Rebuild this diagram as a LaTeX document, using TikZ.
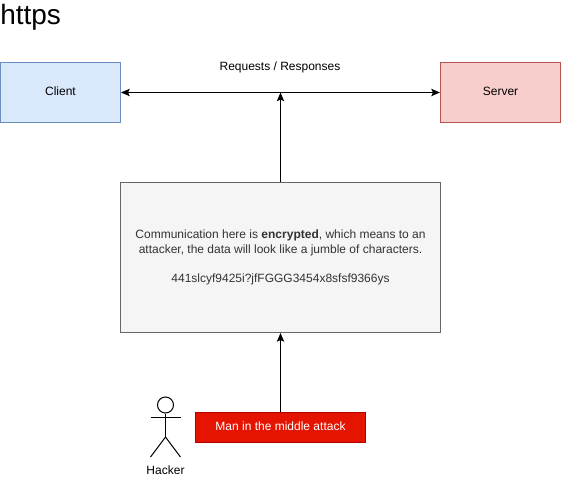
\documentclass[tikz,border=0pt]{standalone}
\usepackage{fontspec}
\setmainfont{Liberation Sans}
\usetikzlibrary{positioning, arrows.meta}

\definecolor{clientfill}{HTML}{DAE8FC}
\definecolor{clientdraw}{HTML}{6C8EBF}
\definecolor{serverfill}{HTML}{F8CECC}
\definecolor{serverdraw}{HTML}{B85450}
\definecolor{notefill}{HTML}{F5F5F5}
\definecolor{notedraw}{HTML}{666666}
\definecolor{notetext}{HTML}{333333}
\definecolor{attackfill}{HTML}{E51400}
\definecolor{attackdraw}{HTML}{B20000}

\begin{document}
\begin{tikzpicture}[
    x=0.75pt, y=-0.75pt,
    every node/.style={font=\fontsize{9pt}{11.25pt}\selectfont, inner sep=0pt},
    endpoint/.style={rectangle, draw, line width=0.75pt, minimum width=90pt, minimum height=45pt, text height=6.5pt, text depth=1.5pt},
    note/.style={rectangle, draw=notedraw, fill=notefill, text=notetext, line width=0.75pt, minimum width=240pt, minimum height=112.5pt, align=center},
    attack/.style={rectangle, draw=attackdraw, fill=attackfill, text=white, line width=0.75pt, minimum width=127.5pt, minimum height=22.5pt, text height=6.5pt, text depth=1.5pt},
    line/.style={draw, line width=0.75pt, -{Stealth[length=6.5pt, width=5.5pt, inset=1.2pt]}},
    limb/.style={draw, line width=0.75pt}
]
\useasboundingbox (0,0) rectangle (561,478);

% Title
\node[anchor=west, font=\fontsize{21pt}{25pt}\selectfont] (title) at (0,17) {https};

% Endpoints
\node[endpoint, draw=clientdraw, fill=clientfill] (client) at (60.5,92.5) {Client};
\node[endpoint, draw=serverdraw, fill=serverfill] (server) at (500.5,92.5) {Server};
\node (channel) at (280,67) {Requests / Responses};
\coordinate (join) at (280.5,92.5);

% Encrypted data
\node[note] (data) at (280.5,257.5) {Communication here is \textbf{encrypted}, which means to an\\attacker, the data will look like a jumble of characters.\\[10.5pt]441slcyf9425i?jfFGGG3454x8sfsf9366ys};

% Attack
\node[attack] (mitm) at (280.5,427.5) {Man in the middle attack};

% Hacker
\node[circle, draw, line width=0.75pt, minimum size=12pt] (head) at (165.5,405) {};
\coordinate (hip) at (165.5,437);
\coordinate (arm_l) at (150.5,417);
\coordinate (arm_r) at (180.5,417);
\coordinate (foot_l) at (150.5,457);
\coordinate (foot_r) at (180.5,457);
\node (hacker) at (165.5,470) {Hacker};
\draw[limb] (head) -- (hip);
\draw[limb] (arm_l) -- (arm_r);
\draw[limb] (foot_l) -- (hip) -- (foot_r);

% Lines
\draw[line, {Stealth[length=6.5pt, width=5.5pt, inset=1.2pt]}-{Stealth[length=6.5pt, width=5.5pt, inset=1.2pt]}] (client) -- (server);
\draw[line] (data) -- (join);
\draw[line] (mitm) -- (data);

\end{tikzpicture}
\end{document}
